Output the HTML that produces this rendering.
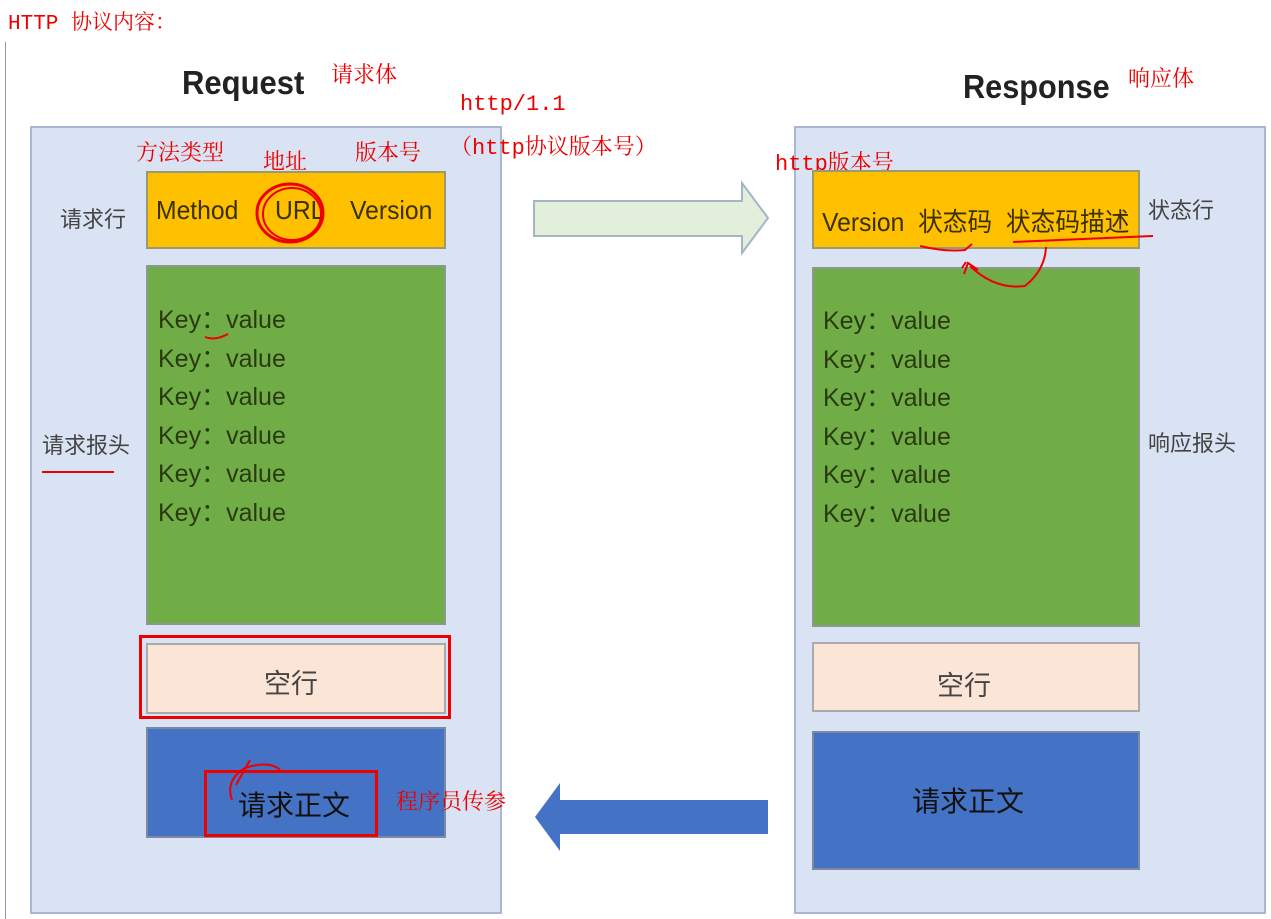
<!DOCTYPE html>
<html><head><meta charset="utf-8"><style>
body{margin:0;width:1271px;height:919px;background:#fff;position:relative;overflow:hidden;font-family:"Liberation Sans","Noto Sans CJK SC",sans-serif}
div{position:absolute;box-sizing:border-box}
.r{color:#e00;font-family:"Liberation Mono","Noto Serif CJK SC",serif;font-size:22px;white-space:nowrap}
.g{color:#444;font-size:22px;white-space:nowrap}
.t{color:#3a3000;font-size:26px;white-space:nowrap;transform:scaleX(.95);transform-origin:left}
.kv{color:#2a3a10;font-size:25px;line-height:38.5px;white-space:pre}
</style></head><body>
<div class="r" style="left:8px;top:6px;font-size:21px">HTTP 协议内容：</div>
<div style="left:5px;top:42px;width:1px;height:877px;background:#999"></div>

<div style="left:182px;top:64px;font-size:33px;font-weight:bold;color:#222;transform:scaleX(.94);transform-origin:left">Request</div>
<div class="r" style="left:331px;top:58px">请求体</div>
<div style="left:963px;top:68px;font-size:33px;font-weight:bold;color:#222;transform:scaleX(.93);transform-origin:left">Response</div>
<div class="r" style="left:1128px;top:62px">响应体</div>

<div style="left:30px;top:126px;width:472px;height:788px;background:#dae3f3;border:2px solid #a9b8d2"></div>
<div style="left:794px;top:126px;width:472px;height:788px;background:#dae3f3;border:2px solid #a9b8d2"></div>

<div style="left:146px;top:171px;width:300px;height:78px;background:#ffc000;border:2px solid #9a9a70"></div>
<div class="t" style="left:156px;top:195px">Method</div>
<div class="t" style="left:275px;top:195px">URL</div>
<div class="t" style="left:350px;top:195px">Version</div>
<div class="r" style="left:136px;top:136px">方法类型</div>
<div class="r" style="left:263px;top:145px">地址</div>
<div class="r" style="left:355px;top:136px">版本号</div>
<div class="r" style="left:460px;top:92px">http/1.1</div>
<div class="r" style="left:450px;top:130px">（http协议版本号）</div>
<div class="g" style="left:60px;top:202px">请求行</div>

<div style="left:146px;top:265px;width:300px;height:360px;background:#70ad47;border:2px solid #8a9a90"></div>
<div class="kv" style="left:158px;top:301px">Key：value
Key：value
Key：value
Key：value
Key：value
Key：value</div>
<div class="g" style="left:42px;top:428px">请求报头</div>
<div style="left:42px;top:471px;width:72px;height:2px;background:#e00"></div>

<div style="left:139px;top:635px;width:312px;height:84px;border:3px solid #e00"></div>
<div style="left:146px;top:643px;width:300px;height:71px;background:#fbe5d6;border:2px solid #aaa"></div>
<div class="g" style="left:264px;top:662px;font-size:27px">空行</div>

<div style="left:146px;top:727px;width:300px;height:111px;background:#4472c4;border:2px solid #7a8aa0"></div>
<div style="left:204px;top:770px;width:174px;height:67px;border:3px solid #e00"></div>
<div class="g" style="left:238px;top:784px;font-size:28px;color:#111">请求正文</div>
<div class="r" style="left:396px;top:785px">程序员传参</div>

<div class="r" style="left:775px;top:146px">http版本号</div>
<div style="left:812px;top:170px;width:328px;height:79px;background:#ffc000;border:2px solid #9a9a70"></div>
<div class="t" style="left:822px;top:202px">Version&nbsp; 状态码&nbsp; 状态码描述</div>
<div class="g" style="left:1148px;top:193px">状态行</div>

<div style="left:812px;top:267px;width:328px;height:360px;background:#70ad47;border:2px solid #8a9a90"></div>
<div class="kv" style="left:823px;top:302px">Key：value
Key：value
Key：value
Key：value
Key：value
Key：value</div>
<div class="g" style="left:1148px;top:426px">响应报头</div>

<div style="left:812px;top:642px;width:328px;height:70px;background:#fbe5d6;border:2px solid #aaa"></div>
<div class="g" style="left:937px;top:664px;font-size:27px">空行</div>
<div style="left:812px;top:731px;width:328px;height:139px;background:#4472c4;border:2px solid #7a8aa0"></div>
<div class="g" style="left:912px;top:780px;font-size:28px;color:#111">请求正文</div>

<svg style="position:absolute;left:0;top:0" width="1271" height="919">
<polygon points="534,201 742,201 742,183 768,218 742,253 742,236 534,236" fill="#e2efda" stroke="#a5b5c5" stroke-width="2"/>
<polygon points="768,800 560,800 560,783 535,817 560,851 560,834 768,834" fill="#4472c4"/>
<ellipse cx="290" cy="213" rx="33" ry="29" stroke="#e00" stroke-width="3" fill="none"/>
<ellipse cx="292" cy="214" rx="29" ry="26" stroke="#e00" stroke-width="2" fill="none"/>
<path d="M920,246 Q945,252 965,250 L972,244" stroke="#e00" stroke-width="2" fill="none"/>
<path d="M1013,242 L1153,236" stroke="#e00" stroke-width="2" fill="none"/>
<path d="M1046,247 Q1045,270 1025,286 Q995,290 970,266 M964,274 L968,263 L978,270 M962,268 L966,262" stroke="#e00" stroke-width="2" fill="none"/>
<path d="M205,337 Q215,341 228,334" stroke="#e00" stroke-width="2" fill="none"/>
<path d="M232,800 Q225,780 245,768 Q270,760 280,770 M236,785 L250,760" stroke="#e00" stroke-width="2" fill="none"/>
</svg>
</body></html>
